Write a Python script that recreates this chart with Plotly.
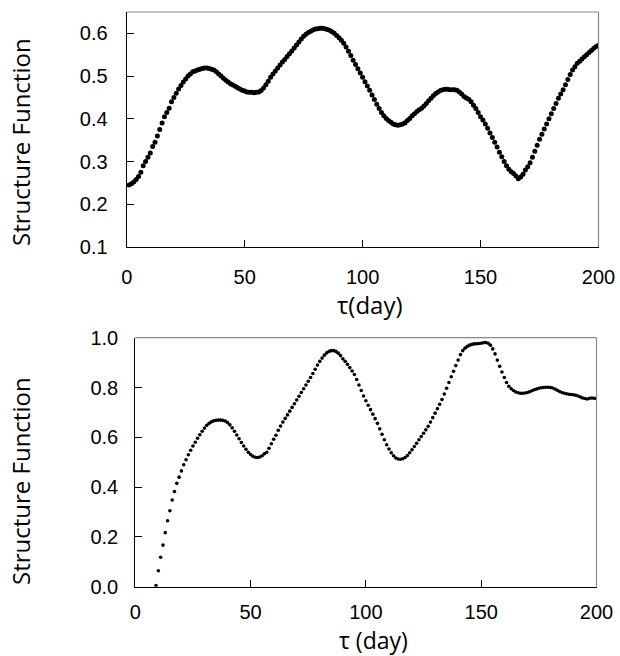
import plotly.graph_objects as go

# ---------------- data ----------------
top_days = list(range(1, 201))
top_sf = [
    0.245, 0.248, 0.252, 0.258, 0.265, 0.275, 0.290, 0.300, 0.310, 0.320,
    0.335, 0.345, 0.360, 0.375, 0.390, 0.405, 0.415, 0.425, 0.440, 0.450,
    0.460, 0.470, 0.478, 0.486, 0.493, 0.500, 0.505, 0.510, 0.512, 0.514,
    0.516, 0.518, 0.519, 0.519, 0.518, 0.516, 0.514, 0.510, 0.505, 0.500,
    0.495, 0.490, 0.486, 0.482, 0.479, 0.476, 0.473, 0.470, 0.467, 0.465,
    0.463, 0.462, 0.462, 0.461, 0.462, 0.463, 0.466, 0.472, 0.480, 0.488,
    0.497, 0.505, 0.512, 0.519, 0.526, 0.533, 0.539, 0.546, 0.552, 0.559,
    0.566, 0.573, 0.580, 0.587, 0.593, 0.598, 0.602, 0.605, 0.608, 0.610,
    0.611, 0.612, 0.612, 0.611, 0.609, 0.607, 0.604, 0.600, 0.595, 0.590,
    0.584, 0.577, 0.568, 0.558, 0.548, 0.537, 0.527, 0.517, 0.507, 0.497,
    0.487, 0.477, 0.467, 0.456, 0.445, 0.434, 0.424, 0.415, 0.407, 0.401,
    0.396, 0.392, 0.388, 0.386, 0.385, 0.386, 0.388, 0.391, 0.396, 0.401,
    0.407, 0.412, 0.417, 0.421, 0.425, 0.430, 0.436, 0.442, 0.448, 0.454,
    0.459, 0.463, 0.466, 0.468, 0.469, 0.469, 0.468, 0.468, 0.468, 0.467,
    0.463, 0.458, 0.452, 0.449, 0.446, 0.440, 0.432, 0.424, 0.415, 0.405,
    0.397, 0.388, 0.378, 0.367, 0.356, 0.345, 0.334, 0.322, 0.311, 0.300,
    0.290, 0.282, 0.276, 0.272, 0.266, 0.260, 0.264, 0.270, 0.280, 0.288,
    0.297, 0.310, 0.324, 0.338, 0.352, 0.364, 0.376, 0.388, 0.400, 0.412,
    0.424, 0.436, 0.448, 0.458, 0.468, 0.480, 0.492, 0.504, 0.514, 0.522,
    0.530, 0.535, 0.540, 0.545, 0.550, 0.555, 0.560, 0.565, 0.569, 0.572,
]

bottom_days = list(range(9, 201))
bottom_sf = [
    0.005, 0.064, 0.118, 0.167, 0.217, 0.265, 0.305, 0.348, 0.382, 0.415,
    0.440, 0.465, 0.490, 0.510, 0.530, 0.548, 0.565, 0.580, 0.596, 0.610,
    0.624, 0.637, 0.648, 0.656, 0.662, 0.666, 0.668, 0.669, 0.669, 0.668,
    0.665, 0.659, 0.650, 0.638, 0.624, 0.609, 0.594, 0.579, 0.565, 0.552,
    0.540, 0.531, 0.524, 0.520, 0.519, 0.521, 0.526, 0.534, 0.540, 0.556,
    0.574, 0.592, 0.608, 0.628, 0.645, 0.661, 0.676, 0.690, 0.705, 0.720,
    0.735, 0.750, 0.765, 0.780, 0.795, 0.810, 0.825, 0.840, 0.856, 0.873,
    0.890, 0.905, 0.918, 0.930, 0.939, 0.945, 0.948, 0.948, 0.945, 0.938,
    0.928, 0.915, 0.905, 0.893, 0.880, 0.866, 0.852, 0.832, 0.810, 0.788,
    0.766, 0.747, 0.729, 0.711, 0.693, 0.675, 0.656, 0.634, 0.612, 0.590,
    0.570, 0.553, 0.538, 0.526, 0.517, 0.513, 0.512, 0.514, 0.519, 0.527,
    0.538, 0.550, 0.563, 0.576, 0.590, 0.603, 0.616, 0.630, 0.644, 0.661,
    0.679, 0.697, 0.715, 0.733, 0.752, 0.774, 0.797, 0.820, 0.843, 0.865,
    0.888, 0.910, 0.932, 0.948, 0.958, 0.965, 0.970, 0.973, 0.975, 0.976,
    0.977, 0.978, 0.980, 0.981, 0.978, 0.970, 0.955, 0.935, 0.910, 0.885,
    0.862, 0.840, 0.820, 0.805, 0.795, 0.788, 0.782, 0.779, 0.777, 0.777,
    0.778, 0.780, 0.783, 0.787, 0.791, 0.794, 0.797, 0.799, 0.800, 0.801,
    0.801, 0.800, 0.798, 0.794, 0.789, 0.784, 0.780, 0.777, 0.775, 0.773,
    0.772, 0.771, 0.769, 0.766, 0.762, 0.758, 0.756, 0.754, 0.757, 0.758,
    0.757, 0.756,
]

x_ticks = [0, 50, 100, 150, 200]
top_y_ticks = [0.1, 0.2, 0.3, 0.4, 0.5, 0.6]
bottom_y_ticks = [0.0, 0.2, 0.4, 0.6, 0.8, 1.0]
y_title = "Structure Function"
x_title_top = "τ(day)"
x_title_bottom = "τ (day)"

# ---------------- figure ----------------
W, H = 620, 656
fig = go.Figure()

fig.add_trace(go.Scatter(x=top_days, y=top_sf, mode="markers",
                         marker=dict(color="black", size=5, line=dict(width=0)),
                         xaxis="x", yaxis="y", showlegend=False))
fig.add_trace(go.Scatter(x=bottom_days, y=bottom_sf, mode="markers",
                         marker=dict(color="black", size=3.6, line=dict(width=0)),
                         xaxis="x2", yaxis="y2", showlegend=False))

tick_font = dict(family="Arial, Liberation Sans", size=20, color="black")
title_font = dict(family="Open Sans", size=24, color="black")
title_font_small = dict(family="Open Sans", size=23, color="black")

def px_x(p):
    return p / W

def px_y(p):
    return (H - p) / H

axis_common = dict(showline=True, linecolor="black", linewidth=1.2,
                   ticks="inside", ticklen=7, tickcolor="black", tickwidth=1,
                   showgrid=False, zeroline=False, tickfont=tick_font,
                   automargin=False)

fig.update_layout(
    width=W, height=H,
    margin=dict(l=0, r=0, t=0, b=0, pad=0, autoexpand=False),
    paper_bgcolor="white", plot_bgcolor="white",
    xaxis=dict(domain=[px_x(126.7), px_x(598.5)], range=[0, 200],
               tickvals=x_ticks, anchor="y", ticklabelstandoff=12, **axis_common),
    yaxis=dict(domain=[px_y(247), px_y(12)], range=[0.1, 0.65],
               tickvals=top_y_ticks, tickformat=".1f", anchor="x",
               ticklabelstandoff=14, **axis_common),
    xaxis2=dict(domain=[px_x(135.3), px_x(596.5)], range=[0, 200],
                tickvals=x_ticks, anchor="y2", ticklabelstandoff=7, **axis_common),
    yaxis2=dict(domain=[px_y(586.7), px_y(337.7)], range=[0, 1.0],
                tickvals=bottom_y_ticks, tickformat=".1f", anchor="x2",
                ticklabelstandoff=12, **axis_common),
)

# gray top / right frame lines
for xr, yr in (("x domain", "y domain"), ("x2 domain", "y2 domain")):
    fig.add_shape(type="line", xref=xr, yref=yr, x0=0, x1=1, y0=1, y1=1,
                  line=dict(color="#888888", width=1.2))
    fig.add_shape(type="line", xref=xr, yref=yr, x0=1, x1=1, y0=0, y1=1,
                  line=dict(color="#888888", width=1.2))

annots = [
    dict(text=y_title, x=px_x(21), y=px_y(142), textangle=-90, font=title_font),
    dict(text=y_title, x=px_x(21), y=px_y(481), textangle=-90, font=title_font),
    dict(text=x_title_top, x=px_x(370), y=px_y(304), textangle=0, font=title_font),
    dict(text=x_title_bottom, x=px_x(373), y=px_y(640), textangle=0,
         font=title_font_small),
]
for a in annots:
    fig.add_annotation(xref="paper", yref="paper", showarrow=False,
                       xanchor="center", yanchor="middle", **a)

fig.write_html(
    "out.html",
    config={"responsive": False, "displayModeBar": False},
    post_script="document.body.style.margin='0';document.body.style.padding='0';"
                "document.body.style.overflow='hidden';",
)
